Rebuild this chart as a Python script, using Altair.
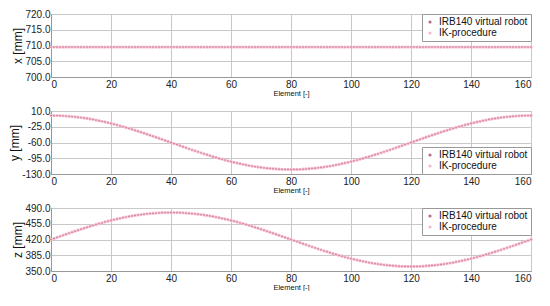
import altair as alt
import pandas as pd

elements = list(range(161))

x_vals = [709.5] * 161

y_vals = [
    0.0, -0.1, -0.2, -0.4, -0.7, -1.2, -1.7, -2.3, -2.9, -3.7, -4.6, -5.5, -6.5, -7.6, -8.8, -10.1,
    -11.5, -12.9, -14.4, -15.9, -17.6, -19.3, -21.0, -22.9, -24.7, -26.7, -28.6, -30.7, -32.8, -34.9,
    -37.0, -39.2, -41.5, -43.7, -46.0, -48.3, -50.6, -52.9, -55.3, -57.6, -60.0,
    -62.4, -64.7, -67.1, -69.4, -71.7, -74.0, -76.3, -78.5, -80.8, -83.0, -85.1, -87.2, -89.3, -91.4,
    -93.3, -95.3, -97.1, -99.0, -100.7, -102.4, -104.1, -105.6, -107.1, -108.5, -109.9, -111.2, -112.4,
    -113.5, -114.5, -115.4, -116.3, -117.1, -117.7, -118.3, -118.8, -119.3, -119.6, -119.8, -119.9, -120.0,
    -119.9, -119.8, -119.6, -119.3, -118.8, -118.3, -117.7, -117.1, -116.3, -115.4, -114.5, -113.5,
    -112.4, -111.2, -109.9, -108.5, -107.1, -105.6, -104.1, -102.4, -100.7, -99.0, -97.1, -95.3, -93.3,
    -91.4, -89.3, -87.2, -85.1, -83.0, -80.8, -78.5, -76.3, -74.0, -71.7, -69.4, -67.1, -64.7, -62.4, -60.0,
    -57.6, -55.3, -52.9, -50.6, -48.3, -46.0, -43.7, -41.5, -39.2, -37.0, -34.9, -32.8, -30.7, -28.6,
    -26.7, -24.7, -22.9, -21.0, -19.3, -17.6, -15.9, -14.4, -12.9, -11.5, -10.1, -8.8, -7.6, -6.5, -5.5,
    -4.6, -3.7, -2.9, -2.3, -1.7, -1.2, -0.7, -0.4, -0.2, -0.1, 0.0,
]

z_vals = [
    420.0, 422.4, 424.7, 427.1, 429.4, 431.7, 434.0, 436.3, 438.5, 440.8, 443.0, 445.1, 447.2, 449.3,
    451.4, 453.3, 455.3, 457.1, 459.0, 460.7, 462.4, 464.1, 465.6, 467.1, 468.5, 469.9, 471.2, 472.4,
    473.5, 474.5, 475.4, 476.3, 477.1, 477.7, 478.3, 478.8, 479.3, 479.6, 479.8, 479.9, 480.0,
    479.9, 479.8, 479.6, 479.3, 478.8, 478.3, 477.7, 477.1, 476.3, 475.4, 474.5, 473.5, 472.4, 471.2,
    469.9, 468.5, 467.1, 465.6, 464.1, 462.4, 460.7, 459.0, 457.1, 455.3, 453.3, 451.4, 449.3, 447.2,
    445.1, 443.0, 440.8, 438.5, 436.3, 434.0, 431.7, 429.4, 427.1, 424.7, 422.4, 420.0,
    417.6, 415.3, 412.9, 410.6, 408.3, 406.0, 403.7, 401.5, 399.2, 397.0, 394.9, 392.8, 390.7, 388.6,
    386.7, 384.7, 382.9, 381.0, 379.3, 377.6, 375.9, 374.4, 372.9, 371.5, 370.1, 368.8, 367.6, 366.5,
    365.5, 364.6, 363.7, 362.9, 362.3, 361.7, 361.2, 360.7, 360.4, 360.2, 360.1, 360.0,
    360.1, 360.2, 360.4, 360.7, 361.2, 361.7, 362.3, 362.9, 363.7, 364.6, 365.5, 366.5, 367.6, 368.8,
    370.1, 371.5, 372.9, 374.4, 375.9, 377.6, 379.3, 381.0, 382.9, 384.7, 386.7, 388.6, 390.7, 392.8,
    394.9, 397.0, 399.2, 401.5, 403.7, 406.0, 408.3, 410.6, 412.9, 415.3, 417.6, 420.0,
]

series_names = ["IRB140 virtual robot", "IK-procedure"]
series_colors = ["#b86a8a", "#f5b8cb"]
x_ticks = [0, 20, 40, 60, 80, 100, 120, 140, 160]

panels = [
    ("x [mm]", x_vals, [700.0, 720.0], [700.0, 705.0, 710.0, 715.0, 720.0], "top-right"),
    ("y [mm]", y_vals, [-130.0, 10.0], [-130.0, -95.0, -60.0, -25.0, 10.0], "bottom-right"),
    ("z [mm]", z_vals, [350.0, 490.0], [350.0, 385.0, 420.0, 455.0, 490.0], "top-right"),
]

W, H = 480, 63
FONT = "Liberation Sans"


def make_panel(title, vals, dom, ticks, legend_orient):
    rows = []
    for s in series_names:
        for e, v in zip(elements, vals):
            rows.append({"Element": e, "value": v, "series": s})
    df = pd.DataFrame(rows)
    color = alt.Color(
        "series:N",
        scale=alt.Scale(domain=series_names, range=series_colors),
        legend=alt.Legend(
            title=None, orient=legend_orient, offset=0, labelFont=FONT, labelFontSize=10,
            labelColor="#111", fillColor="white", strokeColor="#999", padding=3,
            rowPadding=1, symbolSize=10, symbolType="circle", labelLimit=200,
        ),
    )
    x = alt.X("Element:Q", scale=alt.Scale(domain=[0, 160], nice=False),
              axis=alt.Axis(values=x_ticks, title="Element [-]", titleFontSize=7.5,
                            titleFontWeight="normal", titlePadding=0, labelFontSize=10,
                            labelPadding=2))
    y = alt.Y("value:Q", scale=alt.Scale(domain=dom, nice=False, zero=False),
              axis=alt.Axis(values=ticks,
                            labelExpr="replace(format(datum.value, '.1f'), '\u2212', '-')",
                            title=title, titleFontSize=12,
                            titleFontWeight="normal", titlePadding=0, labelFontSize=10,
                            labelPadding=1))
    base = alt.Chart(df).encode(x=x, y=y, color=color)
    pink = base.transform_filter(alt.datum.series == series_names[1]).mark_point(
        filled=True, opacity=1, size=11
    )
    dark = base.transform_filter(alt.datum.series == series_names[0]).mark_point(
        filled=True, opacity=1, size=1.6
    )
    return alt.layer(pink, dark).properties(width=W, height=H)


chart = alt.vconcat(*[make_panel(*p) for p in panels], spacing=8).configure_axis(
    labelFont=FONT, titleFont=FONT, labelColor="#222", titleColor="#111",
    gridColor="#c8c8c8", domainColor="#999", tickSize=0, tickColor="#999",
).configure_view(stroke="#999").configure_legend(symbolStrokeWidth=0).properties(
    padding={"left": 0, "top": 0, "right": 5, "bottom": 0}
)

chart.save("out.html", embed_options={"renderer": "svg", "actions": False})
